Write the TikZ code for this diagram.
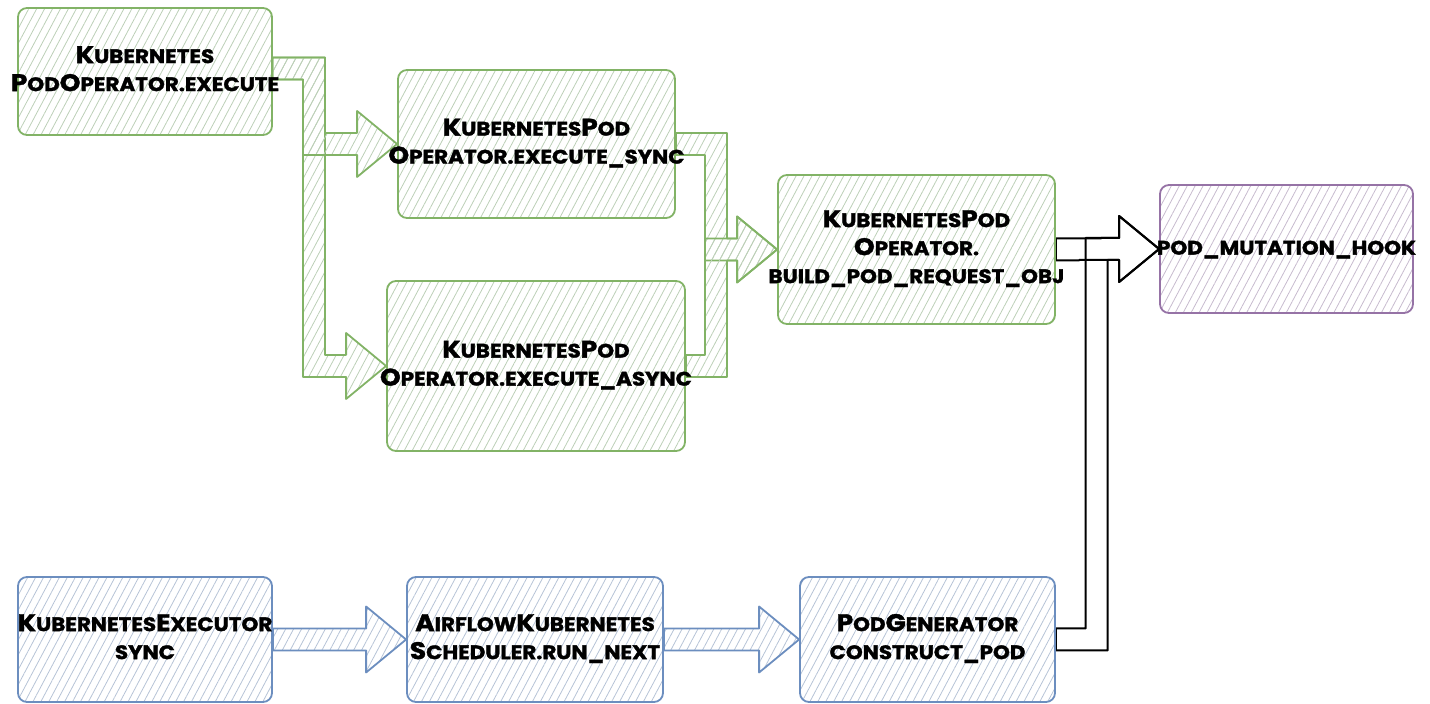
\documentclass[tikz,border=0pt]{standalone}
\usepackage{fontspec}
\setmainfont{Poppins}[FakeStretch=1.1, BoldFeatures={FakeBold=1.6}]
\usetikzlibrary{calc,patterns.meta,backgrounds}

\definecolor{grnline}{HTML}{82B366}
\definecolor{grnhatch}{HTML}{BCCFB7}
\definecolor{blueline}{HTML}{6C8EBF}
\definecolor{bluehatch}{HTML}{B6C3D6}
\definecolor{purpline}{HTML}{9673A6}
\definecolor{purphatch}{HTML}{C7BBCE}

% initial capital of a small-caps word
\newcommand\bc[1]{{\fontsize{24}{24}\selectfont #1}}
% centred lines that may run past the box edge without widening it
\newcommand\lbltext[1]{\makebox[0pt]{\begin{tabular}{@{}c@{}}#1\end{tabular}}}

% block arrow: right, vertical at elbow x (#4), right into the target
% #5 = 1 when the target lies lower, -1 when it lies higher
\newcommand\flexarrow[5][]{%
  \path[#1] let \p1=(#2), \p2=(#3) in
    (\x1,{\y1+11pt}) -- ({#4+(#5)*11pt},{\y1+11pt}) -- ({#4+(#5)*11pt},{\y2+11pt})
    -- ({\x2-40pt},{\y2+11pt}) -- ({\x2-40pt},{\y2+33pt}) -- (\x2,\y2)
    -- ({\x2-40pt},{\y2-33pt}) -- ({\x2-40pt},{\y2-11pt})
    -- ({#4-(#5)*11pt},{\y2-11pt}) -- ({#4-(#5)*11pt},{\y1-11pt})
    -- (\x1,{\y1-11pt}) -- cycle;}

\tikzset{
  hatch/.style={pattern={Lines[angle=62,distance=7pt,line width=0.8pt]},pattern color=#1},
  box/.style 2 args={draw=#1, line width=1.8pt, rounded corners=9pt, hatch=#2,
    inner sep=0pt, text=black,
    font=\fontsize{19.5}{28}\selectfont\bfseries},
  garrow/.style={draw=grnline, line width=1.8pt, line join=round, hatch=grnhatch},
  barrow/.style={draw=blueline, line width=1.8pt, line join=round, hatch=bluehatch},
  karrow/.style={draw=black, line width=2pt, line join=round},
}

\begin{document}
\begin{tikzpicture}[x=1pt,y=1pt]
\useasboundingbox (0,0) rectangle (1430,704);

% operator path
\node[box={grnline}{grnhatch}, minimum width=254, minimum height=127] (A) at (145,632.5)
  {\lbltext{\bc{K}UBERNETES\\\bc{P}OD\bc{O}PERATOR.EXECUTE}};
\node[box={grnline}{grnhatch}, minimum width=277, minimum height=148] (B) at (536.5,560)
  {\lbltext{\bc{K}UBERNETES\bc{P}OD\\\bc{O}PERATOR.EXECUTE\_SYNC}};
\node[box={grnline}{grnhatch}, minimum width=298, minimum height=170] (C) at (536,338)
  {\lbltext{\bc{K}UBERNETES\bc{P}OD\\\bc{O}PERATOR.EXECUTE\_ASYNC}};
\node[box={grnline}{grnhatch}, minimum width=277, minimum height=149] (D) at (916.5,454.5)
  {\lbltext{\bc{K}UBERNETES\bc{P}OD\\\bc{O}PERATOR.\\BUILD\_POD\_REQUEST\_OBJ}};
\node[box={purpline}{purphatch}, minimum width=253, minimum height=128] (E) at (1286.5,455)
  {\lbltext{POD\_MUTATION\_HOOK}};

% executor path
\node[box={blueline}{bluehatch}, minimum width=254, minimum height=125] (F) at (145,64.5)
  {\lbltext{\bc{K}UBERNETES\bc{E}XECUTOR\\SYNC}};
\node[box={blueline}{bluehatch}, minimum width=256, minimum height=125] (G) at (535,64.5)
  {\lbltext{\bc{A}IRFLOW\bc{K}UBERNETES\\\bc{S}CHEDULER.RUN\_NEXT}};
\node[box={blueline}{bluehatch}, minimum width=255, minimum height=125] (H) at (927.5,64.5)
  {\lbltext{\bc{P}OD\bc{G}ENERATOR\\CONSTRUCT\_POD}};

\begin{pgfonlayer}{background}
  \coordinate (a0) at ($(A.east)+(0,3)$);
  \flexarrow[garrow]{a0}{C.west}{314pt}{1}
  \flexarrow[garrow]{a0}{B.west}{314pt}{1}
  \flexarrow[garrow]{B.east}{D.west}{716pt}{1}
  \flexarrow[garrow]{C.east}{D.west}{716pt}{-1}
  \flexarrow[karrow]{D.east}{E.west}{1090pt}{1}
  \flexarrow[karrow]{H.east}{E.west}{1096.5pt}{-1}
  \flexarrow[barrow]{F.east}{G.west}{320pt}{1}
  \flexarrow[barrow]{G.east}{H.west}{710pt}{1}
\end{pgfonlayer}
\end{tikzpicture}
\end{document}
